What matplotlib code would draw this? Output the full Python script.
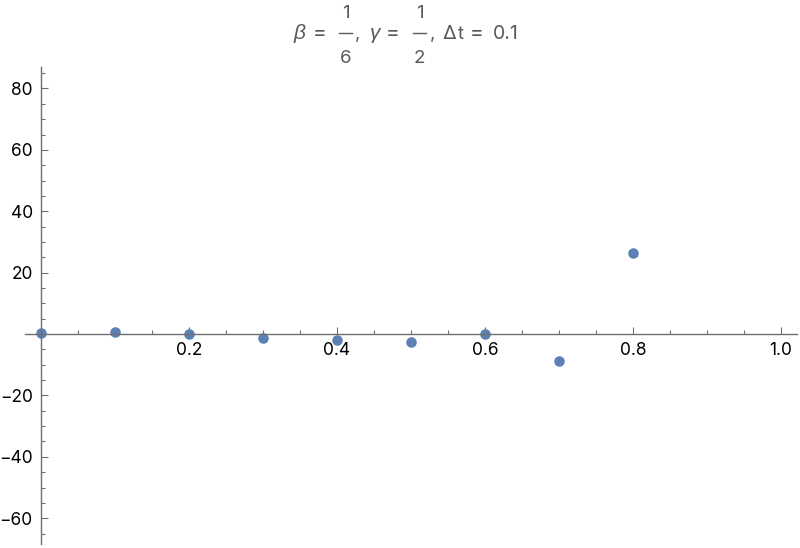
import numpy as np
import matplotlib
matplotlib.use("Agg")
import matplotlib.pyplot as plt
from matplotlib.lines import Line2D
from matplotlib.ticker import MultipleLocator, FixedLocator

# Newmark solution points
t_vals = [0.0, 0.1, 0.2, 0.3, 0.4, 0.5, 0.6, 0.7, 0.8]
u_vals = [0.5, 0.6, -0.1, -1.4, -2.1, -2.7, -0.1, -8.7, 26.5]

x_ticks = [0.2, 0.4, 0.6, 0.8, 1.0]
y_ticks = [-60, -40, -20, 20, 40, 60, 80]

plt.rcParams['font.family'] = ['Inter', 'Liberation Sans', 'DejaVu Sans']
plt.rcParams['mathtext.fontset'] = 'custom'
plt.rcParams['mathtext.rm'] = 'Liberation Sans'
plt.rcParams['mathtext.it'] = 'Liberation Sans:italic'

axis_col = '#6e6e6e'
pt_col = '#5e81b5'
title_col = '#5a5a5a'

W, H = 800, 548
fig = plt.figure(figsize=(W / 100, H / 100), dpi=100)
ax = fig.add_axes([25/W, 4/H, 772/W, 477/H])

ax.plot(t_vals, u_vals, 'o', color=pt_col, markersize=7.6, markeredgewidth=0)

ax.set_xlim(-0.0216, 1.0216)
ax.set_ylim(-68.4, 87.0)

for s in ['top', 'right']:
    ax.spines[s].set_visible(False)
ax.spines['left'].set_position(('data', 0))
ax.spines['bottom'].set_position(('data', 0))
for s in ['left', 'bottom']:
    ax.spines[s].set_color(axis_col)
    ax.spines[s].set_linewidth(1.0)

ax.xaxis.set_major_locator(FixedLocator(x_ticks))
ax.yaxis.set_major_locator(FixedLocator(y_ticks))
ax.xaxis.set_minor_locator(MultipleLocator(0.05))
ax.yaxis.set_minor_locator(MultipleLocator(5))
ax.set_xticklabels(['%.1f' % v for v in x_ticks])
ax.set_yticklabels([str(v).replace('-', '\u2212') for v in y_ticks])

ax.tick_params(which='both', direction='in', color=axis_col, width=0.8,
               labelsize=12.5, labelcolor='black')
ax.tick_params(which='major', length=5, pad=6)
ax.tick_params(which='minor', length=2.6)


# title pieces, placed in pixel coordinates (Mathematica style fractions)
def tx(x, y, s, ha='center', size=13.5):
    fig.text(x / W, 1 - y / H, s, ha=ha, va='baseline', fontsize=size,
             color=title_col)


def frac(xc, num, den):
    tx(xc, 17.5, num)
    tx(xc, 63, den)
    fig.add_artist(Line2D([(xc - 6.5) / W, (xc + 6.5) / W],
                          [1 - 33 / H, 1 - 33 / H], color=title_col,
                          lw=1.0, transform=fig.transFigure))


base = 39.3
tx(300, base, r'$\beta$', size=15)
tx(320, base, '=', size=15)
frac(345.5, '1', '6')
tx(358, base, ',')
tx(375.5, base, r'$\gamma$', size=15)
tx(393, base, '=', size=15)
frac(419.5, '1', '2')
tx(433, base, ',')
tx(449.5, base, '\u0394', size=14.5)
tx(460.5, base, 't')
tx(476.5, base, '=', size=15)
tx(506, base, '0.1', size=14)

fig.savefig('out.png', dpi=100)
